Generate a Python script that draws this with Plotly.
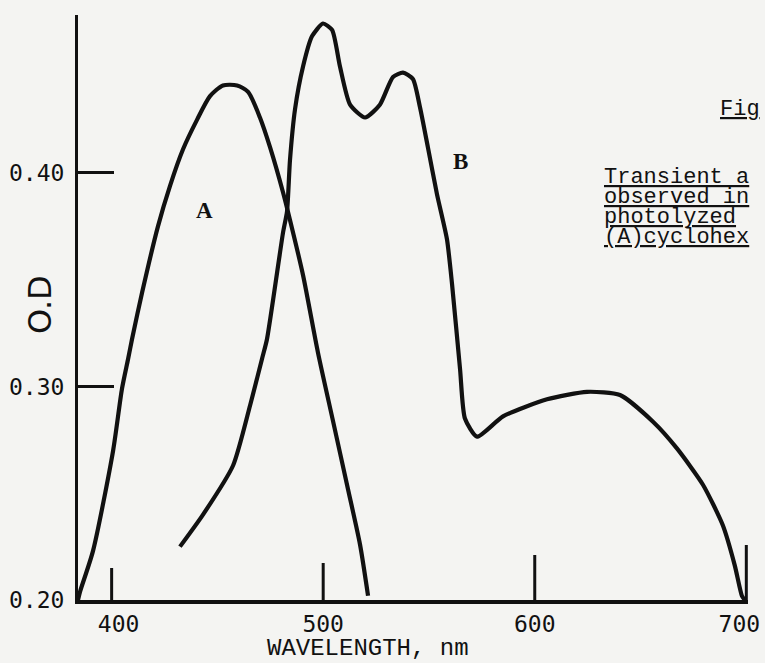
import plotly.graph_objects as go

# ---- data ----
wl_A = [384.1, 385.1, 391.2, 400.7, 404.9, 407.8, 409.6, 414.4, 421.9, 427.6, 433.7,
        440.4, 446.5, 452.6, 459.3, 464.5, 470.1, 474.9, 481.0, 484.3, 490.5, 497.5,
        504.6, 511.7, 517.4, 521.2]
od_A = [0.200, 0.204, 0.223, 0.270, 0.299, 0.313, 0.322, 0.344, 0.375, 0.394, 0.411,
        0.425, 0.436, 0.441, 0.441, 0.438, 0.426, 0.412, 0.391, 0.378, 0.352, 0.316,
        0.284, 0.252, 0.226, 0.202]

wl_B = [432.3, 443.2, 457.4, 465.4, 471.1, 473.4, 481.0, 482.9, 484.3, 486.7, 490.5,
        494.7, 499.9, 504.2, 507.9, 512.7, 519.8, 526.8, 533.0, 537.7, 542.4, 545.7,
        549.5, 553.8, 558.5, 560.9, 564.7, 567.0, 572.7, 585.0, 605.8, 624.7, 640.3,
        655.9, 667.2, 679.5, 688.9, 694.6, 697.9, 699.3]
od_B = [0.225, 0.240, 0.263, 0.291, 0.313, 0.322, 0.372, 0.382, 0.406, 0.430, 0.450,
        0.464, 0.470, 0.467, 0.450, 0.432, 0.426, 0.432, 0.445, 0.447, 0.444, 0.431,
        0.412, 0.390, 0.369, 0.348, 0.308, 0.285, 0.2765, 0.286, 0.294, 0.2975, 0.296,
        0.2835, 0.271, 0.254, 0.235, 0.216, 0.202, 0.200]

x_ticks = [400, 500, 600, 700]
x_tick_labels = ["\u00a0400", "500", "600", "700\u00a0"]
y_ticks = [0.20, 0.30, 0.40]
y_tick_labels = ["0.20", "0.30", "0.40"]
x_tick_len_px = [32, 37, 45, 55]

X_RANGE = [384.1, 700.8]
Y_RANGE = [0.20, 0.474]

W, H = 765, 663
ML, MR, MT, MB = 78, 17, 15, 63
PW, PH = W - ML - MR, H - MT - MB

def px(xp):
    return (xp - ML) / PW

def py(yp):
    return (H - MB - yp) / PH

BG = "#f4f4f2"
INK = "#111111"

fig = go.Figure()
fig.add_trace(go.Scatter(x=wl_A, y=od_A, mode="lines", name="A",
                         line=dict(color=INK, width=4.2, shape="spline", smoothing=0.7)))
fig.add_trace(go.Scatter(x=wl_B, y=od_B, mode="lines", name="B",
                         line=dict(color=INK, width=4.2, shape="spline", smoothing=0.6)))

# x tick marks (varying hand-drawn lengths)
for xv, ln in zip(x_ticks, x_tick_len_px):
    fig.add_shape(type="line", xref="x", yref="y", x0=xv, x1=xv,
                  ysizemode="pixel", yanchor=Y_RANGE[0], y0=0, y1=ln,
                  line=dict(color=INK, width=3))

mono = "DejaVu Sans Mono"
tw = "Liberation Mono"

fig.update_xaxes(range=X_RANGE, showgrid=False, zeroline=False, automargin=False,
                 showline=True, linecolor=INK, linewidth=3.5,
                 tickvals=x_ticks, ticktext=x_tick_labels, ticks="",
                 ticklabeloverflow="allow", ticklabelstandoff=1,
                 tickfont=dict(family=mono, size=23, color=INK))
fig.update_yaxes(range=Y_RANGE, showgrid=False, zeroline=False, automargin=False,
                 showline=True, linecolor=INK, linewidth=3,
                 tickvals=y_ticks, ticktext=y_tick_labels, ticks="inside",
                 ticklen=36, tickwidth=3, tickcolor=INK, ticklabelstandoff=6,
                 tickfont=dict(family=mono, size=23, color=INK))

ann = []
# axis titles
ann.append(dict(text="WAVELENGTH, nm", x=px(368), y=py(648), xref="paper", yref="paper",
                showarrow=False, xanchor="center", yanchor="middle",
                font=dict(family=tw, size=24, color=INK)))
ann.append(dict(text="O.D", x=px(40), y=py(305), xref="paper", yref="paper",
                showarrow=False, textangle=-90, xanchor="center", yanchor="middle",
                font=dict(family="DejaVu Sans", size=32, color=INK)))
# curve labels
ann.append(dict(text="<b>A</b>", x=px(194), y=py(210), xref="paper", yref="paper",
                showarrow=False, font=dict(family="Liberation Serif", size=23, color=INK)))
ann.append(dict(text="<b>B</b>", x=px(460), y=py(147), xref="paper", yref="paper",
                showarrow=False, font=dict(family="Liberation Serif", size=23, color=INK)))
# caption (cut off at right edge in the reference)
caption = [("Fig", 718, 110), ("Transient a", 602, 177), ("observed in", 602, 197),
           ("photolyzed", 602, 217), ("(A)cyclohex", 602, 237)]
for t, xx, yy in caption:
    ann.append(dict(text="<u>" + t + "</u>", x=px(xx), y=py(yy), xref="paper", yref="paper",
                    showarrow=False, xanchor="left", yanchor="middle",
                    font=dict(family=tw, size=22, color=INK)))

fig.update_layout(width=W, height=H, margin=dict(l=ML, r=MR, t=MT, b=MB),
                  paper_bgcolor=BG, plot_bgcolor=BG, showlegend=False,
                  annotations=ann)

fig.write_html("out.html", config={"displayModeBar": False},
               post_script="document.body.style.margin='0';document.body.style.overflow='hidden';")
